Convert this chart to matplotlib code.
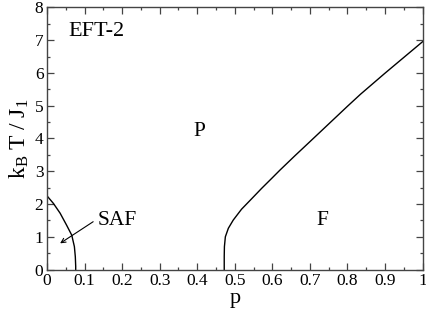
import matplotlib
matplotlib.use('Agg')
import matplotlib.pyplot as plt
from matplotlib.ticker import MultipleLocator

plt.rcParams['font.family'] = ['Liberation Serif', 'DejaVu Serif']
plt.rcParams['mathtext.fontset'] = 'custom'
plt.rcParams['mathtext.rm'] = 'Liberation Serif'
plt.rcParams['mathtext.it'] = 'Liberation Serif:italic'
plt.rcParams['mathtext.default'] = 'regular'

# SAF phase boundary
saf_p = [0.0, 0.017, 0.035, 0.052, 0.066, 0.073, 0.0755, 0.0765, 0.0765]
saf_T = [2.25, 2.02, 1.72, 1.36, 1.05, 0.70, 0.39, 0.10, 0.0]

# F phase boundary
f_p = [0.472, 0.472, 0.4725, 0.475, 0.483, 0.496, 0.518, 0.545, 0.571, 0.60,
       0.62, 0.66, 0.70, 0.75, 0.80, 0.835, 0.90, 0.95, 1.0]
f_T = [0.0, 0.4, 0.7, 1.0, 1.26, 1.51, 1.84, 2.16, 2.47, 2.80,
       3.03, 3.47, 3.90, 4.44, 4.98, 5.35, 5.99, 6.47, 6.95]

xticks = [0, 0.1, 0.2, 0.3, 0.4, 0.5, 0.6, 0.7, 0.8, 0.9, 1]
xticklabels = ['0', '0.1', '0.2', '0.3', '0.4', '0.5', '0.6', '0.7', '0.8', '0.9', '1']

fig = plt.figure(figsize=(4.27, 3.12), dpi=100)
ax = fig.add_axes([0.110, 0.136, 0.8795, 0.8405])

ax.plot(saf_p, saf_T, color='black', lw=1.0)
ax.plot(f_p, f_T, color='black', lw=1.0)

ax.set_xlim(0, 1)
ax.set_ylim(0, 8)
ax.set_xticks(xticks)
ax.set_xticklabels(xticklabels)
ax.xaxis.set_minor_locator(MultipleLocator(0.05))
ax.yaxis.set_major_locator(MultipleLocator(1))
ax.yaxis.set_minor_locator(MultipleLocator(0.5))
ax.tick_params(which='both', direction='in', top=True, right=True,
               labelsize=12.5, color='#444444', width=0.9)
ax.tick_params(which='major', length=4.8, pad=2.5)
ax.tick_params(which='minor', length=2.4)
for s in ax.spines.values():
    s.set_color('#444444')
    s.set_linewidth(1.0)

ax.set_xlabel('p', fontsize=16, labelpad=0)
ax.set_ylabel(r'$k_B\ T\ /\ J_1$', fontsize=17, labelpad=3)

ax.text(0.056, 7.26, 'EFT-2', fontsize=16, ha='left', va='center')
ax.text(0.405, 4.21, 'P', fontsize=15.5, ha='center', va='center')
ax.text(0.733, 1.51, 'F', fontsize=15.5, ha='center', va='center')
ax.text(0.136, 1.51, 'SAF', fontsize=15.5, ha='left', va='center')
ax.annotate('', xy=(0.035, 0.80), xytext=(0.123, 1.46),
            arrowprops=dict(arrowstyle='->', color='black', lw=0.8,
                            shrinkA=0, shrinkB=0, mutation_scale=8))

fig.savefig('out.png', dpi=100)
